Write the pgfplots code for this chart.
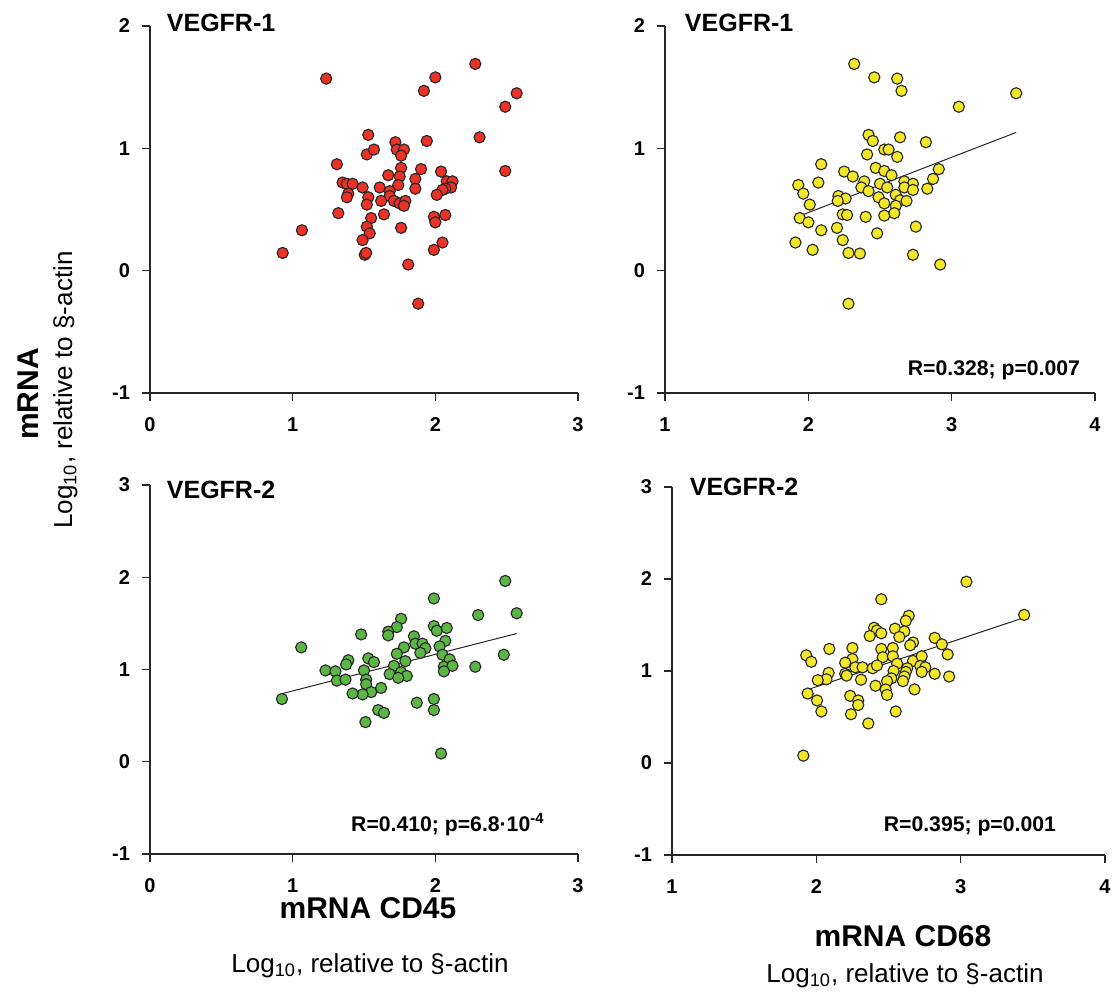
\documentclass[border=0pt]{standalone}
\usepackage{fontspec}
\setmainfont{Liberation Sans}
\usepackage{pgfplots}
\pgfplotsset{compat=1.18}
\definecolor{cred}{RGB}{234,50,39}
\definecolor{cyel}{RGB}{242,232,40}
\definecolor{cgrn}{RGB}{92,182,70}
\pgfplotsset{
 panel/.style={
  scale only axis,
  anchor=south west,
  axis x line=bottom, axis y line=left,
  axis line style={-, line width=0.6pt, black!85},
  enlargelimits=false,
  tick align=outside,
  major tick length=3.8pt,
  tick style={line width=0.6pt, black!85},
  tick label style={font=\fontsize{10}{12}\selectfont\bfseries},
  xticklabel style={yshift=-5pt},
  yticklabel style={xshift=-2.7pt},
  clip=false,
 },
 pts/.style={only marks, mark=*, mark size=2.8pt, mark options={draw=black!85, line width=0.55pt, fill=#1}},
 reg/.style={no marks, black!85, line width=0.5pt},
}
\begin{document}
\begin{tikzpicture}
\path[use as bounding box] (0,0) rectangle (557pt,496pt);
% Panel 1
\begin{axis}[panel, at={(75pt,299.5pt)}, width=214pt, height=183.5pt,
 xmin=0,xmax=3,ymin=-1,ymax=2, xtick={0,1,2,3}, xticklabels={0,1,2,3},
 ytick={-1,0,1,2}, yticklabels={-1,0,1,2}]
\addplot[pts=cred] coordinates {
(1.235,1.57) (2.28,1.69) (2.00,1.58) (1.92,1.47) (2.57,1.45) (2.49,1.34)
(1.53,1.11) (2.31,1.09) (1.72,1.05) (1.94,1.06) (1.52,0.95) (1.57,0.99)
(1.73,0.99) (1.78,0.99) (1.76,0.94) (1.31,0.87) (1.76,0.84) (1.90,0.83)
(2.04,0.81) (2.49,0.815) (1.67,0.78) (1.75,0.77) (1.86,0.75) (1.35,0.72)
(1.38,0.71) (1.42,0.71) (1.49,0.68) (1.61,0.68) (1.74,0.70) (1.86,0.67)
(2.08,0.73) (2.12,0.73) (2.11,0.68) (2.07,0.67) (2.05,0.66) (1.39,0.63)
(1.38,0.60) (1.53,0.60) (1.68,0.65) (1.68,0.61) (1.62,0.57) (1.71,0.57)
(1.75,0.55) (1.79,0.57) (1.78,0.53) (1.52,0.54) (2.01,0.62) (1.32,0.47)
(1.64,0.46) (1.55,0.43) (1.99,0.44) (2.07,0.455) (2.00,0.395) (1.52,0.36)
(1.76,0.35) (1.065,0.33) (1.54,0.305) (1.49,0.25) (2.05,0.23) (1.99,0.17)
(0.93,0.145) (1.505,0.13) (1.515,0.145) (1.81,0.05) (1.88,-0.27)
};
\node[anchor=west, font=\fontsize{12.5}{14}\selectfont\bfseries] at (rel axis cs:0.023,1.008) {VEGFR-1};
\end{axis}
% Panel 2
\begin{axis}[panel, at={(332.5pt,299.5pt)}, width=215pt, height=183.5pt,
 xmin=1,xmax=4,ymin=-1,ymax=2, xtick={1,2,3,4}, xticklabels={1,2,3,4},
 ytick={-1,0,1,2}, yticklabels={-1,0,1,2}]
\addplot[reg] coordinates {(1.967,0.46) (3.45,1.13)};
\addplot[pts=cyel] coordinates {
(2.32,1.69) (2.46,1.58) (2.62,1.57) (2.65,1.47) (3.45,1.45) (3.05,1.34)
(2.42,1.11) (2.45,1.06) (2.64,1.09) (2.82,1.05) (2.53,0.99) (2.56,0.99)
(2.41,0.95) (2.62,0.93) (2.09,0.87) (2.47,0.84) (2.53,0.815) (2.58,0.78)
(2.91,0.83) (2.25,0.81) (2.31,0.77) (2.87,0.75) (2.07,0.72) (1.93,0.70)
(2.39,0.73) (2.67,0.73) (2.73,0.71) (2.37,0.68) (2.50,0.71) (2.55,0.68)
(2.67,0.68) (2.73,0.66) (2.83,0.67) (2.42,0.65) (1.965,0.63) (2.21,0.61)
(2.26,0.59) (2.205,0.57) (2.49,0.60) (2.61,0.62) (2.64,0.575) (2.685,0.57)
(2.53,0.55) (2.61,0.53) (2.01,0.54) (2.24,0.46) (2.27,0.455) (2.40,0.44)
(2.53,0.45) (2.60,0.47) (1.94,0.43) (2.00,0.395) (2.09,0.33) (2.20,0.35)
(2.75,0.36) (2.48,0.305) (2.24,0.25) (1.91,0.23) (2.03,0.17) (2.28,0.145)
(2.36,0.14) (2.73,0.13) (2.92,0.05) (2.28,-0.27)
};
\node[anchor=west, font=\fontsize{12.5}{14}\selectfont\bfseries] at (rel axis cs:0.03,1.008) {VEGFR-1};
\node[font=\fontsize{10.6}{12}\selectfont\bfseries] at (rel axis cs:0.765,0.063) {R=0.328; p=0.007};
\end{axis}
% Panel 3
\begin{axis}[panel, at={(75pt,69pt)}, width=214pt, height=184.5pt,
 xmin=0,xmax=3,ymin=-1,ymax=3, xtick={0,1,2,3}, xticklabels={0,1,2,3},
 ytick={-1,0,1,2,3}, yticklabels={-1,0,1,2,3}]
\addplot[reg] coordinates {(0.93,0.74) (2.57,1.39)};
\addplot[pts=cgrn] coordinates {
(2.49,1.96) (1.99,1.77) (2.30,1.59) (2.57,1.61) (1.76,1.55) (1.73,1.46)
(1.67,1.41) (1.67,1.37) (1.48,1.38) (1.99,1.47) (2.01,1.42) (2.08,1.45)
(1.85,1.36) (1.86,1.28) (1.91,1.28) (2.07,1.31) (1.06,1.24) (1.78,1.24)
(1.93,1.23) (2.03,1.25) (1.73,1.17) (1.895,1.18) (2.05,1.16) (2.48,1.16)
(1.39,1.10) (1.375,1.055) (1.53,1.12) (1.57,1.08) (1.79,1.09) (2.10,1.11)
(1.50,0.99) (1.23,0.99) (1.30,0.98) (1.71,1.04) (2.06,1.03) (2.12,1.04)
(2.28,1.03) (2.06,0.98) (1.68,0.95) (1.76,0.97) (1.80,0.93) (1.74,0.91)
(1.515,0.89) (1.31,0.88) (1.37,0.89) (1.515,0.84) (1.62,0.80) (1.55,0.755)
(1.49,0.73) (1.42,0.74) (0.925,0.68) (1.87,0.64) (1.99,0.68) (1.99,0.56)
(1.60,0.56) (1.64,0.53) (1.51,0.43) (2.04,0.09)
};
\node[anchor=west, font=\fontsize{12.5}{14}\selectfont\bfseries] at (rel axis cs:0.023,0.986) {VEGFR-2};
\node[font=\fontsize{10.6}{12}\selectfont\bfseries] at (rel axis cs:0.696,0.079) {R=0.410; p=6.8·10\textsuperscript{-4}};
\end{axis}
% Panel 4
\begin{axis}[panel, at={(336pt,68.5pt)}, width=216.5pt, height=184pt,
 xmin=1,xmax=4,ymin=-1,ymax=3, xtick={1,2,3,4}, xticklabels={1,2,3,4},
 ytick={-1,0,1,2,3}, yticklabels={-1,0,1,2,3}]
\addplot[reg] coordinates {(1.945,0.80) (3.44,1.58)};
\addplot[pts=cyel] coordinates {
(3.04,1.97) (2.45,1.78) (3.44,1.61) (2.64,1.60) (2.62,1.545) (2.40,1.47)
(2.42,1.44) (2.45,1.41) (2.545,1.46) (2.61,1.43) (2.575,1.37) (2.37,1.38)
(2.82,1.36) (2.87,1.29) (2.67,1.31) (2.65,1.28) (2.91,1.18) (1.93,1.17)
(1.965,1.10) (2.09,1.24) (2.25,1.25) (2.45,1.24) (2.53,1.25) (2.46,1.15)
(2.53,1.16) (2.25,1.13) (2.20,1.09) (2.27,1.04) (2.32,1.04) (2.39,1.03)
(2.42,1.06) (2.56,1.08) (2.67,1.11) (2.73,1.16) (2.72,1.055) (2.755,1.04)
(2.73,0.99) (2.63,1.03) (2.62,0.99) (2.535,1.00) (2.82,0.97) (2.92,0.94)
(2.085,0.98) (2.20,0.97) (2.21,0.95) (2.07,0.91) (2.01,0.90) (2.31,0.905)
(2.52,0.92) (2.61,0.94) (2.60,0.89) (2.49,0.89) (2.41,0.84) (2.48,0.80)
(2.68,0.80) (2.49,0.74) (1.94,0.755) (2.005,0.68) (2.035,0.56) (2.235,0.73)
(2.29,0.68) (2.29,0.63) (2.24,0.53) (2.55,0.56) (2.36,0.43) (1.91,0.08)
};
\node[anchor=west, font=\fontsize{12.5}{14}\selectfont\bfseries] at (rel axis cs:0.025,1.0) {VEGFR-2};
\node[font=\fontsize{10.6}{12}\selectfont\bfseries] at (rel axis cs:0.688,0.079) {R=0.395; p=0.001};
\end{axis}
% axis titles
\node[rotate=90, anchor=base, font=\fontsize{15}{18}\selectfont\bfseries] at (19.5pt,299pt) {mRNA};
\node[rotate=90, anchor=base, font=\fontsize{13}{16}\selectfont] at (36pt,301pt) {Log\textsubscript{10}, relative to §-actin};
\node[anchor=base, font=\fontsize{15}{18}\selectfont\bfseries] at (184pt,37pt) {mRNA CD45};
\node[anchor=base, font=\fontsize{13}{16}\selectfont] at (185pt,10pt) {Log\textsubscript{10}, relative to §-actin};
\node[anchor=base, font=\fontsize{15}{18}\selectfont\bfseries] at (451.5pt,23pt) {mRNA CD68};
\node[anchor=base, font=\fontsize{13}{16}\selectfont] at (452.5pt,5pt) {Log\textsubscript{10}, relative to §-actin};
\end{tikzpicture}
\end{document}
